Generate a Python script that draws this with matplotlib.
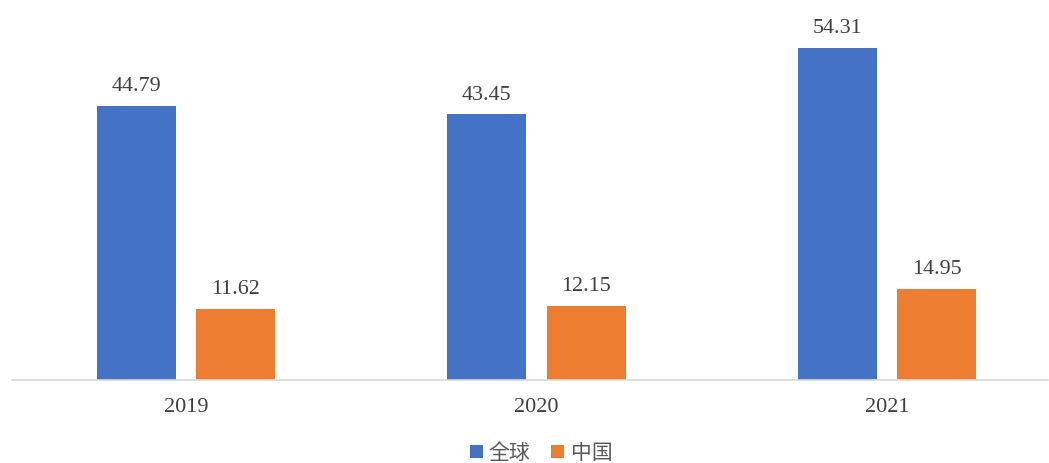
import matplotlib
matplotlib.use("Agg")
import matplotlib.pyplot as plt
import numpy as np

categories = ["2019", "2020", "2021"]
global_vals = [44.79, 43.45, 54.31]
china_vals = [11.62, 12.15, 14.95]
series_names = ["全球", "中国"]

plt.rcParams['font.family'] = ['Liberation Serif', 'Noto Sans CJK SC', 'DejaVu Sans']

W, H = 1049, 463
fig = plt.figure(figsize=(W/100, H/100), dpi=100)
left_px, right_px, bottom_px, top_px = 12, 1048, 380, 13
ax = fig.add_axes([left_px/W, 1 - bottom_px/H, (right_px-left_px)/W, (bottom_px-top_px)/H])

x = np.arange(len(categories))
bw = 0.225
off = 0.142
b1 = ax.bar(x - off, global_vals, bw, color='#4472C4', label=series_names[0])
b2 = ax.bar(x + off, china_vals, bw, color='#ED7D31', label=series_names[1])

for bars, vals in ((b1, global_vals), (b2, china_vals)):
    for r, v in zip(bars, vals):
        ax.annotate(f"{v:.2f}", (r.get_x() + r.get_width()/2, v), xytext=(0, 7),
                    textcoords='offset points', ha='center', va='bottom',
                    fontsize=15.8, color='#404040', family=['Liberation Serif'])

ax.set_xlim((left_px-186)/350.5, (right_px-186)/350.5)
ax.set_ylim(0, (bottom_px-top_px)/6.113)
for s in ['top', 'right', 'left']:
    ax.spines[s].set_visible(False)
ax.spines['bottom'].set_color('#D9D9D9')
ax.spines['bottom'].set_linewidth(1.2)
ax.set_yticks([])
ax.set_xticks(x)
ax.set_xticklabels(categories, fontsize=16, color='#404040')
ax.tick_params(axis='x', length=0, pad=13)

leg = fig.legend(handles=[b1, b2], labels=series_names, loc='center', bbox_to_anchor=(541/W, 1-453/H),
                 ncol=2, frameon=False, handlelength=0.62, handleheight=0.62, handletextpad=0.3,
                 columnspacing=1.0, prop={'family': ['Noto Sans CJK SC'], 'size': 15})
for t in leg.get_texts():
    t.set_color('#595959')

fig.savefig("out.png", dpi=100)
